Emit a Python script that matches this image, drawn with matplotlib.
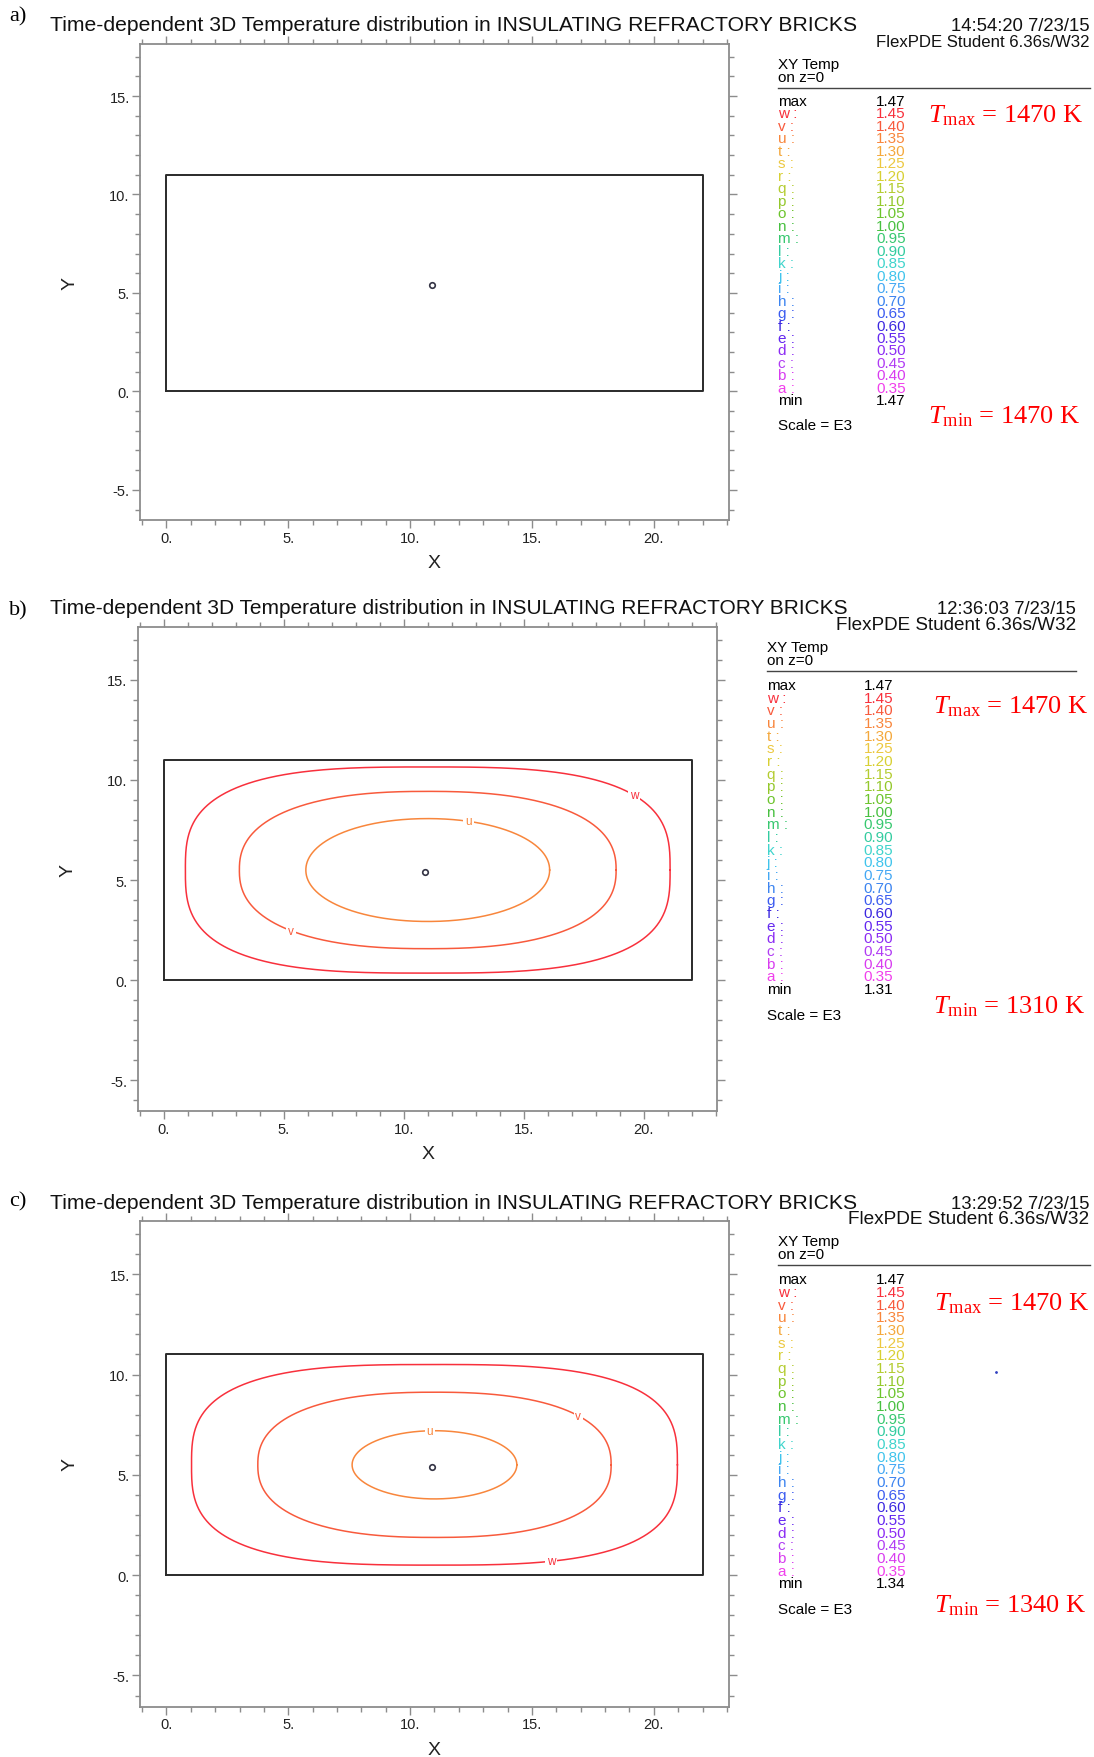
import numpy as np
import matplotlib
matplotlib.use("Agg")
import matplotlib.pyplot as plt

plt.rcParams['font.family'] = ['Liberation Sans', 'DejaVu Sans']
plt.rcParams['mathtext.fontset'] = 'custom'
plt.rcParams['mathtext.rm'] = 'Liberation Serif'
plt.rcParams['mathtext.it'] = 'Liberation Serif:italic'

# ---------------- data ----------------
panel_letters = ["a)", "b)", "c)"]
title_text = "Time-dependent 3D Temperature distribution in INSULATING REFRACTORY BRICKS"
timestamps = ["14:54:20 7/23/15", "12:36:03 7/23/15", "13:29:52 7/23/15"]
version_text = "FlexPDE Student 6.36s/W32"

level_letters = ["w", "v", "u", "t", "s", "r", "q", "p", "o", "n", "m", "l",
                 "k", "j", "i", "h", "g", "f", "e", "d", "c", "b", "a"]
level_values = [1.45, 1.40, 1.35, 1.30, 1.25, 1.20, 1.15, 1.10, 1.05, 1.00, 0.95, 0.90,
                0.85, 0.80, 0.75, 0.70, 0.65, 0.60, 0.55, 0.50, 0.45, 0.40, 0.35]
level_colors = ["#f8303c", "#f85a3c", "#f8863c", "#f4a83c", "#ecc840", "#d8d034",
                "#b4cc30", "#94c82c", "#6cc42c", "#48c040", "#38c870", "#34cca0",
                "#40d4cc", "#40c4ec", "#44a8f4", "#3c84f0", "#3c5cf0", "#3c28e0",
                "#6428f0", "#8c2cf4", "#b03cf4", "#d83cf0", "#f040ec"]
max_values = [1.47, 1.47, 1.47]
min_values = [1.47, 1.31, 1.34]
T_max = [1470, 1470, 1470]
T_min = [1470, 1310, 1340]

x_major = [0, 5, 10, 15, 20]
x_major_labels = ["0.", "5.", "10.", "15.", "20."]
y_major = [-5, 0, 5, 10, 15]
y_major_labels = ["-5.", "0.", "5.", "10.", "15."]

brick_width = 22.0
brick_height = 11.0
probe_point = (10.9, 5.4)

# contour parameters (superellipse fits): level letter, half width, half height, exponent
contours = [
    [],
    [("w", 10.10, 5.15, 3.0), ("v", 7.85, 3.93, 2.4), ("u", 5.08, 2.57, 2.05)],
    [("w", 9.97, 5.00, 3.0), ("v", 7.25, 3.62, 2.4), ("u", 3.38, 1.70, 2.0)],
]
contour_center = (11.0, 5.5)
# label x position and branch on each contour
contour_labels = [
    [],
    [("w", 19.6, +1), ("u", 12.7, +1), ("v", 5.3, -1)],
    [("v", 16.9, +1), ("u", 10.8, +1), ("w", 15.8, -1)],
]

# ---------------- layout (in reference pixel units, 976x1568) ----------------
W, H = 976.0, 1568.0
frames = [(125, 650, 40, 465), (123, 640, 560, 992), (125, 650, 1090, 1523)]
legend_x = [694, 684, 694]
legend_vr = [808, 797, 808]
legend_line_end = [972, 960, 972]
legend_top = [58, 578, 1108]
legend_max_y = [91, 612, 1142]
legend_min_y = [358, 883, 1413]
legend_scale_y = [380, 906, 1436]
tmax_pos = [(828, 103), (832, 630), (833, 1163)]
tmin_pos = [(828, 372), (832, 898), (833, 1432)]
title_y = [23, 543, 1073]
title_fs = [15.2, 15.0, 15.2]
time_right = [972, 960, 972]
version_fs = [12.1, 13.6, 13.7]
letter_y = [15, 545, 1072]

fig = plt.figure(figsize=(10.94, 17.58), dpi=100)


def fx(x):
    return x / W


def fy(y):
    return 1 - y / H


color_of = dict(zip(level_letters, level_colors))
frame_gray = "#8c8c8c"
leg_fs = 11

for p in range(3):
    L, R, T, B = frames[p]
    ax = fig.add_axes([fx(L), fy(B), (R - L) / W, (B - T) / H])
    ax.set_xlim(-1.08, 23.07)
    ax.set_ylim(-6.55, 17.65)
    for s in ax.spines.values():
        s.set_color(frame_gray)
        s.set_linewidth(1.3)
    ax.set_xticks(x_major)
    ax.set_xticklabels(x_major_labels)
    ax.set_yticks(y_major)
    ax.set_yticklabels(y_major_labels)
    ax.set_xticks(np.arange(-1, 24), minor=True)
    ax.set_yticks(np.arange(-6, 18), minor=True)
    ax.tick_params(which='both', direction='out', top=True, right=True,
                   color=frame_gray, width=1.0, labelsize=10.5, labelcolor='#222222')
    ax.tick_params(which='major', length=6, pad=1.5)
    ax.tick_params(which='minor', length=3.5)
    ax.set_xlabel("X", fontsize=14, color='#222222', labelpad=7)
    ax.set_ylabel("Y", fontsize=14, color='#222222', labelpad=22)

    # brick outline
    ax.plot([0, brick_width, brick_width, 0, 0], [0, 0, brick_height, brick_height, 0],
            color='#2a2a2a', lw=1.4)
    ax.plot([probe_point[0]], [probe_point[1]], marker='o', ms=4, mfc='none',
            mec='#333344', mew=1.2)

    cx, cy = contour_center
    t = np.linspace(0, 2 * np.pi, 721)
    params = {}
    for (lab, a, b, n) in contours[p]:
        params[lab] = (a, b, n)
        c, s_ = np.cos(t), np.sin(t)
        xs = cx + a * np.sign(c) * np.abs(c) ** (2.0 / n)
        ys = cy + b * np.sign(s_) * np.abs(s_) ** (2.0 / n)
        ax.plot(xs, ys, color=color_of[lab], lw=1.1)
    for (lab, lx, br) in contour_labels[p]:
        a, b, n = params[lab]
        ly = cy + br * b * (1 - abs((lx - cx) / a) ** n) ** (1.0 / n)
        ax.text(lx, ly, lab, fontsize=8.5, color=color_of[lab], ha='center', va='center',
                bbox=dict(boxstyle='square,pad=0.15', fc='white', ec='none'))

    # header
    fig.text(fx(8), fy(letter_y[p]), panel_letters[p], fontsize=16, family='Liberation Serif',
             ha='left', va='center')
    fig.text(fx(45), fy(title_y[p]), title_text, fontsize=title_fs[p], ha='left', va='center',
             color='#111111')
    fig.text(fx(time_right[p]), fy(title_y[p] + 1), timestamps[p], fontsize=13.3, ha='right',
             va='center', color='#111111')
    fig.text(fx(time_right[p]), fy(title_y[p] + 15), version_text, fontsize=version_fs[p],
             ha='right', va='center', color='#111111')

    # legend
    lx0 = legend_x[p]
    vr = legend_vr[p]
    fig.text(fx(lx0), fy(legend_top[p]), "XY Temp", fontsize=leg_fs, ha='left', va='center')
    fig.text(fx(lx0), fy(legend_top[p] + 11.5), "on z=0", fontsize=leg_fs, ha='left',
             va='center')
    fig.lines.append(plt.Line2D([fx(lx0), fx(legend_line_end[p])],
                                [fy(legend_top[p] + 21.5)] * 2, transform=fig.transFigure,
                                color='#444444', lw=1.0))
    step = (legend_min_y[p] - legend_max_y[p]) / (len(level_letters) + 1)
    fig.text(fx(lx0), fy(legend_max_y[p]), "max", fontsize=leg_fs, ha='left', va='center')
    fig.text(fx(vr), fy(legend_max_y[p]), f"{max_values[p]:.2f}", fontsize=leg_fs,
             ha='right', va='center')
    for i, (lt, lv, lc) in enumerate(zip(level_letters, level_values, level_colors)):
        yy = legend_max_y[p] + (i + 1) * step
        fig.text(fx(lx0), fy(yy), lt + " :", fontsize=leg_fs, ha='left', va='center', color=lc)
        fig.text(fx(vr), fy(yy), f"{lv:.2f}", fontsize=leg_fs, ha='right', va='center',
                 color=lc)
    fig.text(fx(lx0), fy(legend_min_y[p]), "min", fontsize=leg_fs, ha='left', va='center')
    fig.text(fx(vr), fy(legend_min_y[p]), f"{min_values[p]:.2f}", fontsize=leg_fs,
             ha='right', va='center')
    fig.text(fx(lx0), fy(legend_scale_y[p]), "Scale = E3", fontsize=leg_fs, ha='left',
             va='center')

    # annotations
    fig.text(fx(tmax_pos[p][0]), fy(tmax_pos[p][1]), r"$T_{\mathrm{max}}$" + f" = {T_max[p]} K",
             fontsize=19, family='Liberation Serif', color='red', ha='left', va='center')
    fig.text(fx(tmin_pos[p][0]), fy(tmin_pos[p][1]), r"$T_{\mathrm{min}}$" + f" = {T_min[p]} K",
             fontsize=19, family='Liberation Serif', color='red', ha='left', va='center')

# small stray dot in panel c
fig.lines.append(plt.Line2D([fx(889)], [fy(1225)], transform=fig.transFigure, marker='.',
                            ms=2, color='#3040c0', lw=0))

fig.savefig("out.png", dpi=100)
